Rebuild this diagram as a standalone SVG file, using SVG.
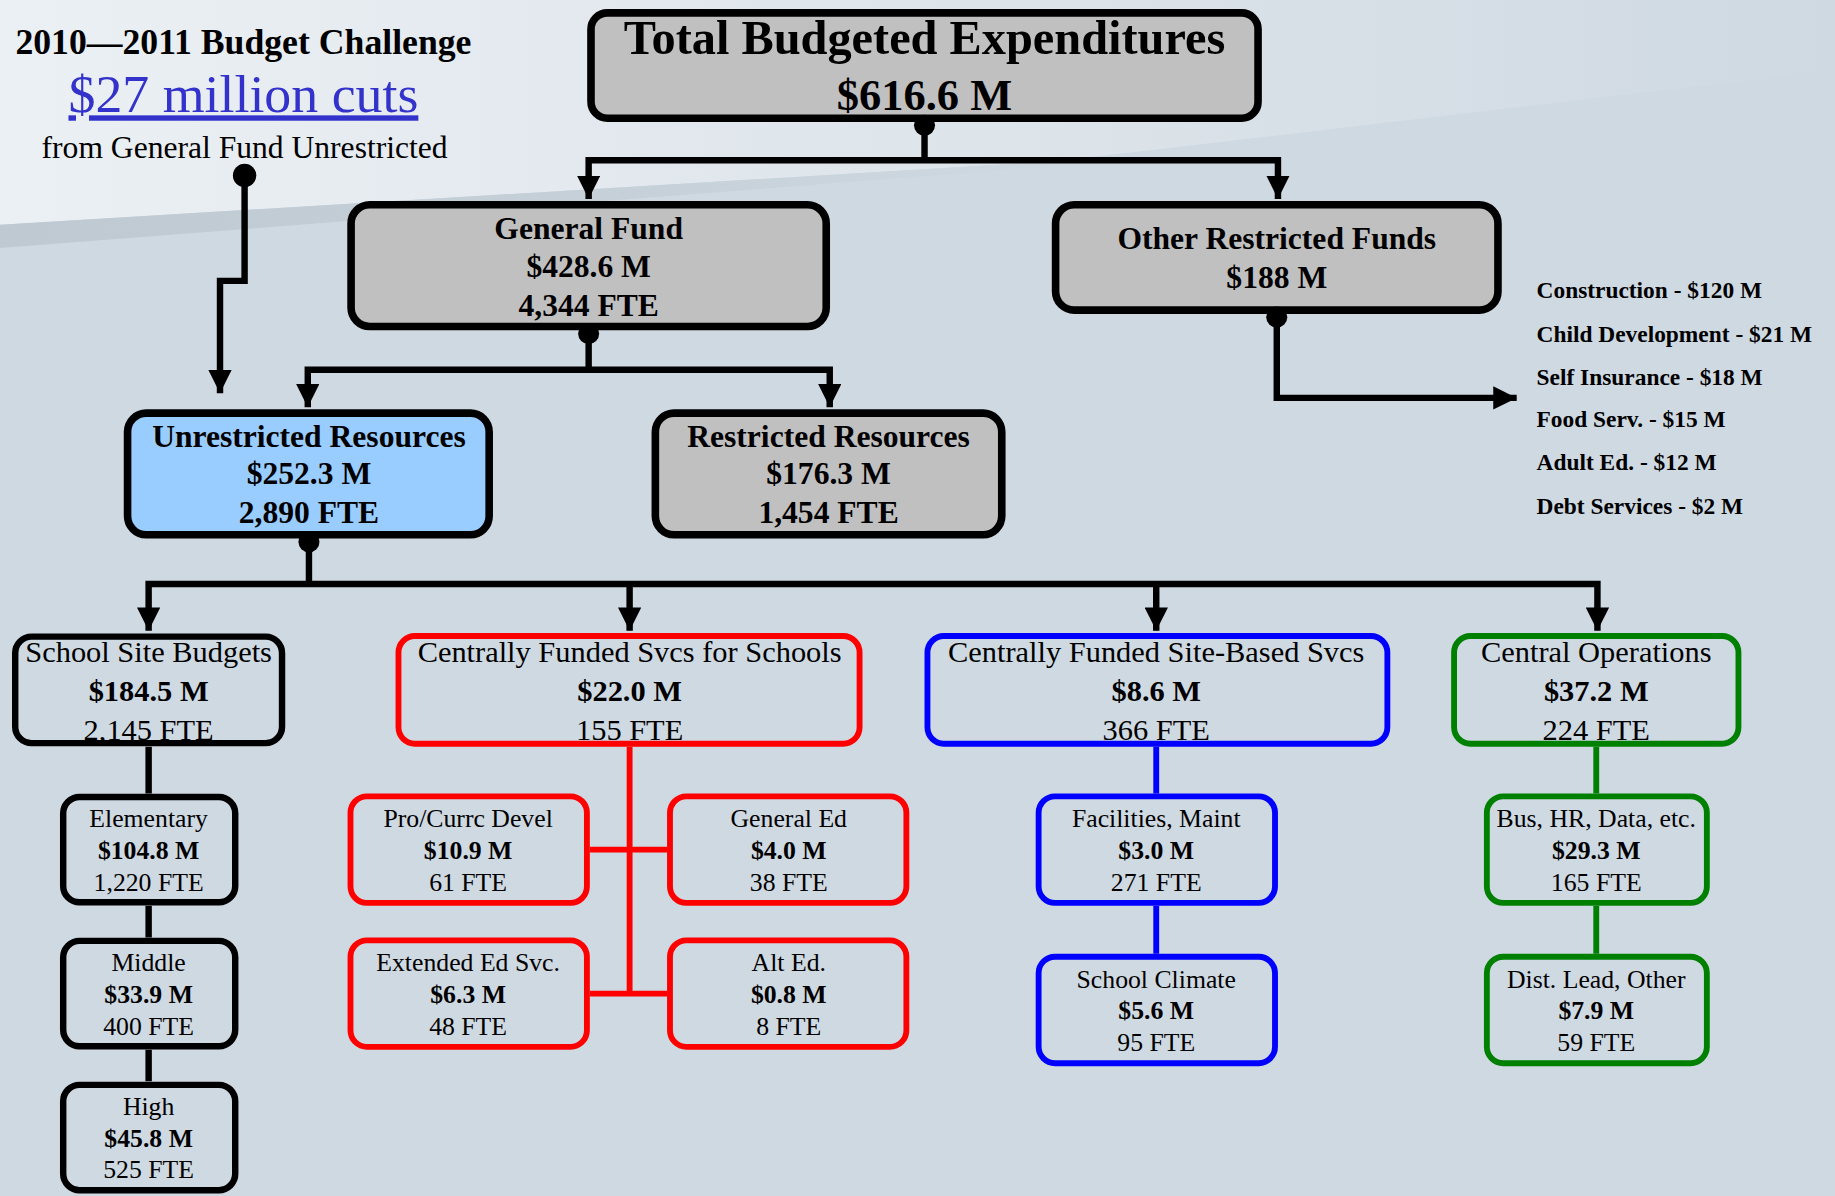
<svg xmlns="http://www.w3.org/2000/svg" width="1835" height="1196" viewBox="0 0 1835 1196">
<defs>
<linearGradient id="glow" x1="0" y1="0" x2="1" y2="0">
<stop offset="0" stop-color="#ebf0f4"/>
<stop offset="0.55" stop-color="#dde4ea"/>
<stop offset="1" stop-color="#cfd9e2"/>
</linearGradient>
<linearGradient id="stripe" x1="0" y1="0" x2="1" y2="0">
<stop offset="0" stop-color="#bfc9d2"/>
<stop offset="0.6" stop-color="#c6d0d9"/>
<stop offset="1" stop-color="#cfd9e2"/>
</linearGradient>
<marker id="arr" viewBox="0 0 20 20" refX="20" refY="10" markerWidth="20" markerHeight="20" markerUnits="userSpaceOnUse" orient="auto-start-reverse">
<path d="M0,0 L20,10 L0,20 z" fill="#000"/>
</marker>
<style>
.t{font-family:"Liberation Serif","Times New Roman",serif;text-anchor:middle;fill:#000}
.b{font-weight:bold}
.gray{fill:#c0c0c0;stroke:#000;stroke-width:6.5}
.blk{fill:none;stroke:#000;stroke-width:5.5}
.red{fill:none;stroke:#ff0000;stroke-width:5}
.blu{fill:none;stroke:#0000ff;stroke-width:5}
.grn{fill:none;stroke:#008000;stroke-width:5}
.c{fill:none;stroke:#000;stroke-width:5.5}
.cr{fill:none;stroke:#ff0000;stroke-width:5}
.cb{fill:none;stroke:#0000ff;stroke-width:5}
.cg{fill:none;stroke:#008000;stroke-width:5}
.s2{font-size:27px}
.s3{font-size:26px}
.s4{font-size:22px}
.lst{font-family:"Liberation Serif","Times New Roman",serif;font-weight:bold;font-size:20px;fill:#000}
</style>
</defs>
<g transform="scale(1.17028)">
<rect x="0" y="0" width="1568" height="1022" fill="#cfd9e2"/>
<polygon points="0,0 1568,0 1568,60 900,138 0,192" fill="url(#glow)"/>
<polygon points="0,192 900,138 900,142 0,212" fill="url(#stripe)"/>

<g id="header">
<text class="t b" x="208" y="46" font-size="30.5">2010—2011 Budget Challenge</text>
<text class="t" x="208" y="96" font-size="46" style="fill:#3333cc" text-decoration="underline">$27 million cuts</text>
<text class="t" x="209" y="135" font-size="27">from General Fund Unrestricted</text>
</g>

<g id="connectors">
<path class="c" d="M790,107 V137"/>
<path class="c" d="M503,170 V137 H1092 V170" marker-start="url(#arr)" marker-end="url(#arr)"/>
<path class="c" d="M503,285 V316"/>
<path class="c" d="M263,348 V316 H709 V348" marker-start="url(#arr)" marker-end="url(#arr)"/>
<path class="c" d="M1091,271 V340 H1296" marker-end="url(#arr)"/>
<circle cx="209" cy="150" r="10"/>
<path class="c" d="M209,150 V240 H188 V336" marker-end="url(#arr)"/>
<path class="c" d="M264,463 V499"/>
<path class="c" d="M127,539 V499 H1365 V539" marker-start="url(#arr)" marker-end="url(#arr)"/>
<path class="c" d="M538,499 V539" marker-end="url(#arr)"/>
<path class="c" d="M988,499 V539" marker-end="url(#arr)"/>
<path class="c" d="M127,638 V678 M127,774 V801 M127,897 V924"/>
<path class="cr" d="M538,638 V849 M504,726 H570 M504,849 H570"/>
<path class="cb" d="M988,638 V678 M988,774 V815"/>
<path class="cg" d="M1364,638 V678 M1364,774 V815"/>
</g>

<g id="total">
<rect class="gray" x="505" y="11" width="570" height="90" rx="14"/>
<text class="t b" x="790" y="46" font-size="41.3">Total Budgeted Expenditures</text>
<text class="t b" x="790" y="94" font-size="38">$616.6 M</text>
</g>
<circle cx="790" cy="107" r="9"/>

<g id="general-fund">
<rect class="gray" x="300" y="175" width="406" height="104" rx="16"/>
<text class="t b s2" x="503" y="204">General Fund</text>
<text class="t b s2" x="503" y="237">$428.6 M</text>
<text class="t b s2" x="503" y="270">4,344 FTE</text>
</g>
<circle cx="503" cy="285" r="9"/>

<g id="other-restricted">
<rect class="gray" x="902" y="175" width="378" height="90" rx="16"/>
<text class="t b s2" x="1091" y="213">Other Restricted Funds</text>
<text class="t b s2" x="1091" y="246">$188 M</text>
</g>
<circle cx="1091" cy="271" r="9"/>

<g id="other-list">
<text class="lst" x="1313" y="255">Construction - $120 M</text>
<text class="lst" x="1313" y="292">Child Development - $21 M</text>
<text class="lst" x="1313" y="329">Self Insurance - $18 M</text>
<text class="lst" x="1313" y="365">Food Serv. - $15 M</text>
<text class="lst" x="1313" y="402">Adult Ed. - $12 M</text>
<text class="lst" x="1313" y="439">Debt Services - $2 M</text>
</g>

<g id="unrestricted">
<rect x="109" y="353" width="309" height="104" rx="16" fill="#99ccff" stroke="#000" stroke-width="6.5"/>
<text class="t b s2" x="264" y="382">Unrestricted Resources</text>
<text class="t b s2" x="264" y="414">$252.3 M</text>
<text class="t b s2" x="264" y="447">2,890 FTE</text>
</g>
<circle cx="264" cy="463" r="9"/>

<g id="restricted">
<rect class="gray" x="560" y="353" width="296" height="104" rx="16"/>
<text class="t b s2" x="708" y="382">Restricted Resources</text>
<text class="t b s2" x="708" y="414">$176.3 M</text>
<text class="t b s2" x="708" y="447">1,454 FTE</text>
</g>

<g id="school-site">
<rect class="blk" x="13" y="544" width="228" height="91" rx="14"/>
<text class="t s3" x="127" y="566">School Site Budgets</text>
<text class="t b s3" x="127" y="599">$184.5 M</text>
<text class="t s3" x="127" y="632">2,145 FTE</text>
</g>

<g id="cf-schools">
<rect class="red" x="340.5" y="543.5" width="394" height="92" rx="14"/>
<text class="t s3" x="538" y="566">Centrally Funded Svcs for Schools</text>
<text class="t b s3" x="538" y="599">$22.0 M</text>
<text class="t s3" x="538" y="632">155 FTE</text>
</g>

<g id="cf-site">
<rect class="blu" x="792.5" y="543.5" width="393" height="92" rx="14"/>
<text class="t s3" x="988" y="566">Centrally Funded Site-Based Svcs</text>
<text class="t b s3" x="988" y="599">$8.6 M</text>
<text class="t s3" x="988" y="632">366 FTE</text>
</g>

<g id="central-ops">
<rect class="grn" x="1242.5" y="543.5" width="243" height="92" rx="14"/>
<text class="t s3" x="1364" y="566">Central Operations</text>
<text class="t b s3" x="1364" y="599">$37.2 M</text>
<text class="t s3" x="1364" y="632">224 FTE</text>
</g>

<g id="elementary">
<rect class="blk" x="54" y="681" width="147" height="90" rx="14"/>
<text class="t s4" x="127" y="707">Elementary</text>
<text class="t b s4" x="127" y="734">$104.8 M</text>
<text class="t s4" x="127" y="761">1,220 FTE</text>
</g>
<g id="middle">
<rect class="blk" x="54" y="804" width="147" height="90" rx="14"/>
<text class="t s4" x="127" y="830">Middle</text>
<text class="t b s4" x="127" y="857">$33.9 M</text>
<text class="t s4" x="127" y="884">400 FTE</text>
</g>
<g id="high">
<rect class="blk" x="54" y="927" width="147" height="90" rx="14"/>
<text class="t s4" x="127" y="953">High</text>
<text class="t b s4" x="127" y="980">$45.8 M</text>
<text class="t s4" x="127" y="1007">525 FTE</text>
</g>

<g id="pro-currc">
<rect class="red" x="299.5" y="680.5" width="202" height="91" rx="14"/>
<text class="t s4" x="400" y="707">Pro/Currc Devel</text>
<text class="t b s4" x="400" y="734">$10.9 M</text>
<text class="t s4" x="400" y="761">61 FTE</text>
</g>
<g id="general-ed">
<rect class="red" x="572.5" y="680.5" width="202" height="91" rx="14"/>
<text class="t s4" x="674" y="707">General Ed</text>
<text class="t b s4" x="674" y="734">$4.0 M</text>
<text class="t s4" x="674" y="761">38 FTE</text>
</g>
<g id="extended-ed">
<rect class="red" x="299.5" y="803.5" width="202" height="91" rx="14"/>
<text class="t s4" x="400" y="830">Extended Ed Svc.</text>
<text class="t b s4" x="400" y="857">$6.3 M</text>
<text class="t s4" x="400" y="884">48 FTE</text>
</g>
<g id="alt-ed">
<rect class="red" x="572.5" y="803.5" width="202" height="91" rx="14"/>
<text class="t s4" x="674" y="830">Alt Ed.</text>
<text class="t b s4" x="674" y="857">$0.8 M</text>
<text class="t s4" x="674" y="884">8 FTE</text>
</g>

<g id="facilities">
<rect class="blu" x="887.5" y="680.5" width="202" height="91" rx="14"/>
<text class="t s4" x="988" y="707">Facilities, Maint</text>
<text class="t b s4" x="988" y="734">$3.0 M</text>
<text class="t s4" x="988" y="761">271 FTE</text>
</g>
<g id="school-climate">
<rect class="blu" x="887.5" y="817.5" width="202" height="91" rx="14"/>
<text class="t s4" x="988" y="844">School Climate</text>
<text class="t b s4" x="988" y="871">$5.6 M</text>
<text class="t s4" x="988" y="898">95 FTE</text>
</g>

<g id="bus-hr">
<rect class="grn" x="1270.5" y="680.5" width="188" height="91" rx="14"/>
<text class="t s4" x="1364" y="707">Bus, HR, Data, etc.</text>
<text class="t b s4" x="1364" y="734">$29.3 M</text>
<text class="t s4" x="1364" y="761">165 FTE</text>
</g>
<g id="dist-lead">
<rect class="grn" x="1270.5" y="817.5" width="188" height="91" rx="14"/>
<text class="t s4" x="1364" y="844">Dist. Lead, Other</text>
<text class="t b s4" x="1364" y="871">$7.9 M</text>
<text class="t s4" x="1364" y="898">59 FTE</text>
</g>
</g>
</svg>
